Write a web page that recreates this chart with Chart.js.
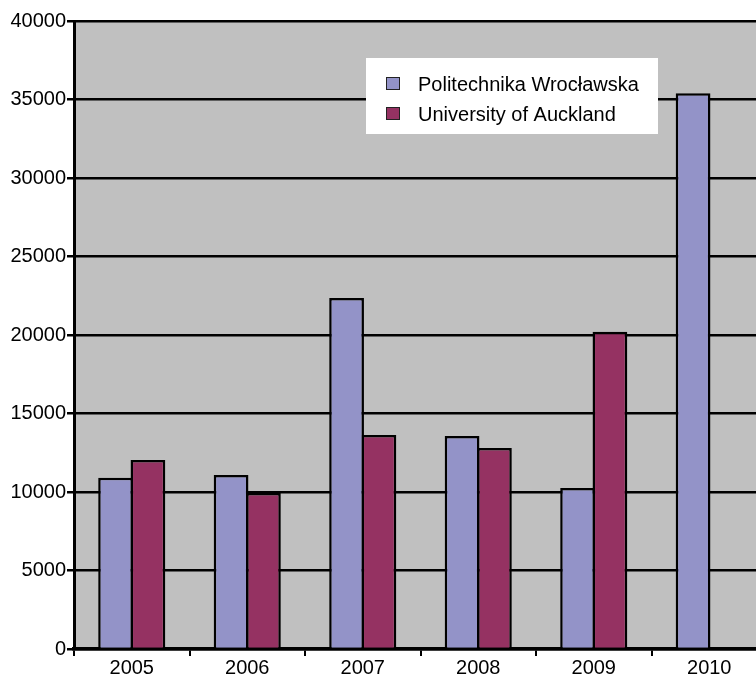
<!DOCTYPE html>
<html>
<head>
<meta charset="utf-8">
<style>
html,body{margin:0;padding:0;background:#fff;overflow:hidden;width:756px;height:678px;}
#wrap{position:absolute;left:0;top:0;width:767px;height:678px;}
</style>
<script src="https://cdn.jsdelivr.net/npm/chart.js@4/dist/chart.umd.min.js"></script>
</head>
<body>
<div id="wrap"><canvas id="c" width="767" height="678"></canvas></div>
<script>
const categories = ["2005","2006","2007","2008","2009","2010"];
const seriesNames = ["Politechnika Wrocławska","University of Auckland"];
const politechnika = [10900, 11080, 22350, 13570, 10250, 35400];
const auckland = [12040, 9930, 13630, 12800, 20200, null];
const yTicks = [0,5000,10000,15000,20000,25000,30000,35000,40000];

const FONT = "'Liberation Sans', Arial, sans-serif";

const bgPlugin = {
  id: 'bg',
  beforeDraw(chart){
    const {ctx, chartArea:a} = chart;
    ctx.save();
    ctx.fillStyle = '#c0c0c0';
    ctx.fillRect(a.left, a.top, a.right - a.left, a.bottom - a.top);
    ctx.restore();
  }
};

const legendPlugin = {
  id: 'boxLegend',
  afterDraw(chart){
    const ctx = chart.ctx;
    ctx.save();
    ctx.fillStyle = '#ffffff';
    ctx.fillRect(366, 58, 292, 76);
    ctx.font = '20px ' + FONT;
    ctx.textBaseline = 'middle';
    chart.data.datasets.forEach((ds, i) => {
      const y = 84 + i * 30;
      ctx.fillStyle = ds.backgroundColor;
      ctx.fillRect(386, y - 7, 14, 13);
      ctx.strokeStyle = '#222';
      ctx.lineWidth = 1;
      ctx.strokeRect(386.5, y - 6.5, 13, 12);
      ctx.fillStyle = '#000';
      ctx.fillText(ds.label, 418, y + 1);
    });
    ctx.restore();
  }
};

new Chart(document.getElementById('c'), {
  type: 'bar',
  data: {
    labels: categories,
    datasets: [
      {label: seriesNames[0], data: politechnika, backgroundColor: '#9393c8', borderColor: '#000', borderWidth: 2.5, borderSkipped: 'bottom'},
      {label: seriesNames[1], data: auckland, backgroundColor: '#953262', borderColor: '#000', borderWidth: 2.5, borderSkipped: 'bottom'}
    ]
  },
  options: {
    responsive: false,
    animation: false,
    layout: {padding: {top: 21, right: 0, left: 0, bottom: 0}},
    plugins: {legend: {display: false}, tooltip: {enabled: false}},
    datasets: {bar: {categoryPercentage: 0.56, barPercentage: 1.075}},
    scales: {
      x: {
        afterFit(s){ s.height = 29; },
        grid: {drawOnChartArea: false, drawTicks: true, tickLength: 7, color: '#000', lineWidth: 2, offset: true},
        border: {color: '#000', width: 3.5},
        ticks: {color: '#000', font: {family: FONT, size: 20}, padding: 0}
      },
      y: {
        min: 0, max: 40000,
        afterFit(s){ s.width = 74; },
        afterBuildTicks(s){ s.ticks = yTicks.map(v => ({value: v})); },
        grid: {color: '#000', lineWidth: 2.5, drawTicks: true, tickLength: 7},
        border: {color: '#000', width: 3},
        ticks: {color: '#000', font: {family: FONT, size: 20}, padding: 1, callback: v => String(v)}
      }
    }
  },
  plugins: [bgPlugin, legendPlugin]
});
</script>
</body>
</html>
